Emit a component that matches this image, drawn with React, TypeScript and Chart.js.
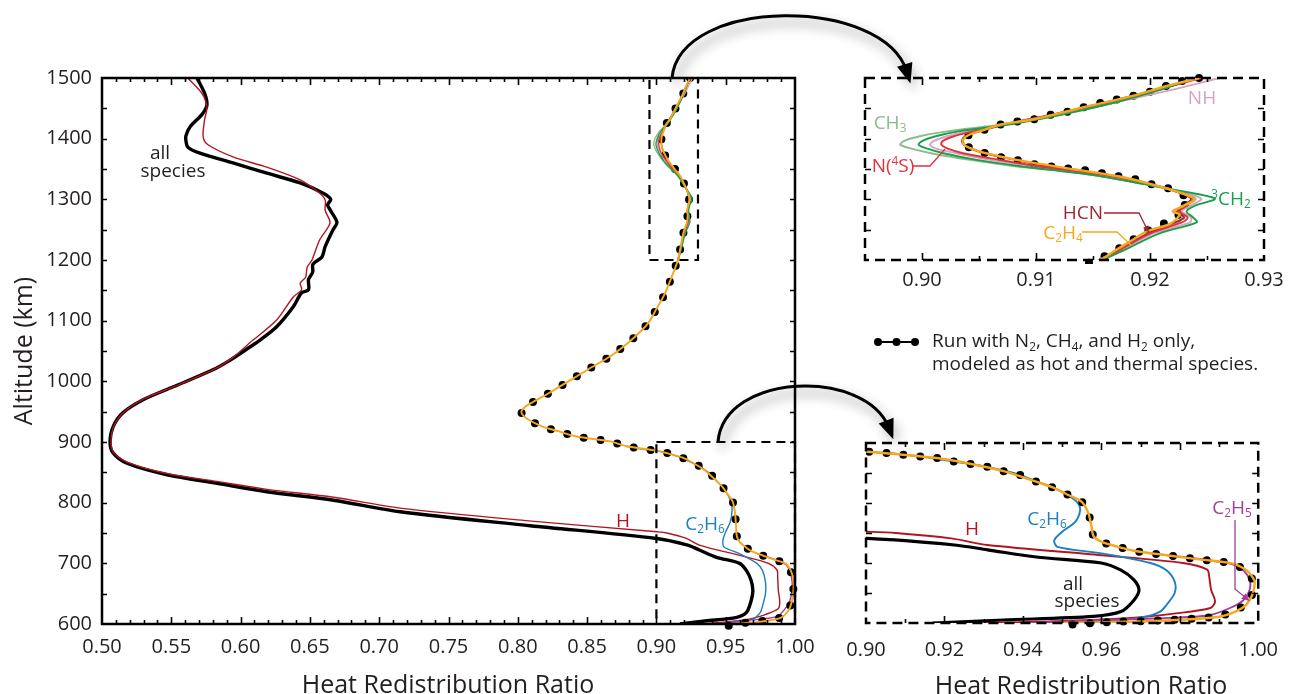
import React, { useEffect, useRef } from "react";
import { Chart, registerables } from "chart.js";
Chart.register(...registerables);

const FONT = "'Open Sans', 'DejaVu Sans', sans-serif";
const TXT = "#231f20";

// ---------- tick labels ----------
const mainXTicks = [0.5, 0.55, 0.6, 0.65, 0.7, 0.75, 0.8, 0.85, 0.9, 0.95, 1.0];
const mainYTicks = [600, 700, 800, 900, 1000, 1100, 1200, 1300, 1400, 1500];
const topXTicks = [0.9, 0.91, 0.92, 0.93];
const bottomXTicks = [0.9, 0.92, 0.94, 0.96, 0.98, 1.0];

// ---------- panel ranges ----------
const mainRange = { xMin: 0.5, xMax: 1.0, yMin: 600, yMax: 1500 };
const topRange = { xMin: 0.895, xMax: 0.93, yMin: 1200, yMax: 1500 };
const bottomRange = { xMin: 0.9, xMax: 1.0, yMin: 600, yMax: 900 };

// ---------- all species (black) ----------
const allAlt = [1500, 1475, 1455, 1440, 1420, 1405, 1396, 1386, 1376, 1360, 1343, 1327, 1310, 1300, 1291, 1283, 1262, 1250, 1222, 1205, 1193, 1180, 1168, 1151, 1146, 1123, 1090, 1068, 1057, 1035, 1019, 991, 970, 948, 925, 900, 882, 865, 846, 832, 818, 804, 785, 762, 741, 730, 722, 710, 700, 688, 672, 655, 638, 619, 611, 605, 600];
const allVal = [0.5685, 0.574, 0.5757, 0.5722, 0.5637, 0.5606, 0.5606, 0.562, 0.5707, 0.5945, 0.619, 0.643, 0.6596, 0.665, 0.6628, 0.6645, 0.6695, 0.6667, 0.661, 0.6587, 0.6522, 0.652, 0.649, 0.649, 0.644, 0.638, 0.626, 0.614, 0.607, 0.5925, 0.58, 0.5515, 0.53, 0.515, 0.508, 0.5058, 0.508, 0.518, 0.547, 0.583, 0.619, 0.667, 0.715, 0.809, 0.9002, 0.9226, 0.931, 0.9434, 0.96, 0.965, 0.9683, 0.9696, 0.9683, 0.965, 0.958, 0.935, 0.917];

// ---------- H ----------
const hAlt = [1500, 1475, 1452, 1431, 1403, 1390, 1370, 1353, 1332, 1312, 1299, 1282, 1261, 1233, 1200, 1188, 1172, 1162, 1151, 1139, 1101, 1068, 1035, 1020, 992, 972, 950, 926, 900, 882, 866, 848, 835, 822, 809, 791, 770, 752, 750, 741, 730, 713, 700, 689, 677, 655, 636, 625, 616, 608, 602, 600];
const hVal = [0.562, 0.572, 0.5757, 0.574, 0.573, 0.5765, 0.5945, 0.619, 0.643, 0.656, 0.661, 0.661, 0.6645, 0.657, 0.6515, 0.648, 0.647, 0.643, 0.644, 0.638, 0.626, 0.609, 0.592, 0.581, 0.553, 0.531, 0.516, 0.5085, 0.5065, 0.5085, 0.519, 0.547, 0.583, 0.619, 0.667, 0.715, 0.8077, 0.9004, 0.9076, 0.9217, 0.931, 0.96, 0.9808, 0.987, 0.9875, 0.988, 0.989, 0.9878, 0.979, 0.9667, 0.9434, 0.93];

// ---------- C2H6 ----------
const c2h6Alt = [893, 888, 883, 877, 869, 860, 847, 836, 826, 812, 800, 788, 769, 752, 738, 727, 716, 700, 688, 669, 650, 630, 619, 611, 606, 602, 600];
const c2h6Val = [0.8785, 0.8906, 0.906, 0.9143, 0.9226, 0.9309, 0.9392, 0.9434, 0.9476, 0.9517, 0.954, 0.9546, 0.9534, 0.95, 0.948, 0.9488, 0.96, 0.9725, 0.9766, 0.9787, 0.9787, 0.9766, 0.975, 0.9716, 0.9667, 0.955, 0.945];

// ---------- C2H5 ----------
const c2h5Alt = [716, 710, 703, 698, 688, 672, 655, 638, 625, 613, 608, 605, 602, 600];
const c2h5Val = [0.9725, 0.9808, 0.9891, 0.9933, 0.9962, 0.9978, 0.9978, 0.9962, 0.9928, 0.9875, 0.975, 0.9584, 0.95, 0.94];

// ---------- run with N2, CH4, H2 only (dotted) ----------
const runAlt = [1500, 1494, 1486, 1477, 1470, 1464, 1458, 1451, 1444, 1439, 1432, 1428, 1423, 1414, 1406, 1398, 1390, 1384, 1377, 1370, 1365, 1358, 1354, 1351, 1348, 1343, 1338, 1333, 1325, 1318, 1307, 1298, 1290, 1282, 1275, 1268, 1260, 1247, 1230, 1214, 1200, 1172, 1145, 1120, 1096, 1076, 1057, 1041, 1020, 1000, 980, 966, 957, 950, 943, 935, 925, 917, 909, 905, 901, 893, 889, 885.5, 883, 880, 877, 874.5, 869, 865, 860.5, 853, 846.7, 835.5, 826, 813, 802, 783, 760.5, 745, 735.5, 727, 720.5, 716, 713, 709.5, 706, 703, 699.5, 688, 676, 666, 650, 633, 619, 610.5, 608, 606, 605, 603, 602, 600, 597];
const runVal = [0.9243, 0.9226, 0.9213, 0.9199, 0.9184, 0.9169, 0.9155, 0.914, 0.9127, 0.9112, 0.9098, 0.9083, 0.9068, 0.9054, 0.9041, 0.9036, 0.9038, 0.9043, 0.9054, 0.9068, 0.9083, 0.9098, 0.9114, 0.9128, 0.9143, 0.9158, 0.9172, 0.9187, 0.9201, 0.9216, 0.9229, 0.9236, 0.923, 0.9222, 0.9225, 0.922, 0.9212, 0.9197, 0.9182, 0.9168, 0.9153, 0.911, 0.9062, 0.9002, 0.8941, 0.8857, 0.8761, 0.8665, 0.851, 0.8365, 0.8220, 0.8110, 0.8048, 0.8025, 0.8042, 0.8090, 0.8184, 0.8304, 0.8425, 0.8545, 0.8665, 0.8785, 0.889, 0.9005, 0.906, 0.9101, 0.9143, 0.9185, 0.9226, 0.9268, 0.9309, 0.9351, 0.9392, 0.9434, 0.9476, 0.9517, 0.955, 0.9567, 0.9575, 0.958, 0.96, 0.9642, 0.9683, 0.9725, 0.9766, 0.9808, 0.985, 0.9891, 0.9933, 0.9966, 0.9982, 0.9988, 0.9986, 0.997, 0.9937, 0.9891, 0.985, 0.9808, 0.9766, 0.97, 0.964, 0.958, 0.952];

// ---------- C2H4 (orange) ----------
const c2h4Alt = [1500, 1486, 1470, 1451, 1432, 1423, 1414, 1406, 1398, 1390, 1384, 1377, 1365, 1351, 1338, 1325, 1310, 1300, 1290, 1280, 1275, 1260, 1247, 1230, 1214, 1200, 1172, 1145, 1120, 1096, 1076, 1057, 1041, 1020, 1000, 980, 966, 957, 950, 943, 935, 925, 917, 909, 901, 893, 885.5, 880, 874.5, 865, 853, 835.5, 826, 813, 802, 783, 760.5, 745, 735.5, 727, 720.5, 713, 706, 699.5, 688, 676, 666, 644, 624.5, 610.5, 605, 602, 600];
const c2h4Val = [0.9243, 0.9213, 0.9184, 0.914, 0.9098, 0.9068, 0.9054, 0.9041, 0.9036, 0.9037, 0.9043, 0.9054, 0.9083, 0.9128, 0.9172, 0.9201, 0.9228, 0.9239, 0.923, 0.922, 0.9226, 0.9218, 0.9197, 0.9182, 0.9168, 0.9156, 0.911, 0.9062, 0.9002, 0.8941, 0.8857, 0.8761, 0.8665, 0.851, 0.8365, 0.8220, 0.8110, 0.8048, 0.8025, 0.8042, 0.8090, 0.8184, 0.8304, 0.8425, 0.8665, 0.8785, 0.9005, 0.9101, 0.9185, 0.9268, 0.9351, 0.9434, 0.9476, 0.9517, 0.955, 0.9567, 0.9575, 0.958, 0.96, 0.9642, 0.9683, 0.9766, 0.985, 0.9933, 0.997, 0.9986, 0.9991, 0.9983, 0.9958, 0.99, 0.979, 0.9666, 0.95];

// ---------- minor species, 1200-1500 km ----------
const minorAlt = [1500, 1480, 1460, 1440, 1425, 1412, 1404, 1396, 1390, 1384, 1376, 1365, 1355, 1340, 1325, 1312, 1301, 1290, 1280, 1270, 1262, 1245, 1230, 1215, 1200];
const ch3Val = [0.924, 0.9208, 0.917, 0.9122, 0.9078, 0.9022, 0.8998, 0.8984, 0.8981, 0.899, 0.9008, 0.9042, 0.908, 0.915, 0.9195, 0.9225, 0.924, 0.9232, 0.9225, 0.9228, 0.9225, 0.92, 0.9185, 0.9172, 0.9155];
const ch2Val = [0.924, 0.9208, 0.917, 0.9124, 0.9082, 0.9032, 0.9012, 0.9, 0.8997, 0.9004, 0.9019, 0.9048, 0.9085, 0.915, 0.9195, 0.9232, 0.9257, 0.924, 0.9232, 0.9238, 0.9241, 0.921, 0.9192, 0.9176, 0.9158];
const nhVal = [0.9261, 0.9218, 0.917, 0.912, 0.9078, 0.904, 0.9022, 0.901, 0.9007, 0.9012, 0.903, 0.906, 0.9098, 0.9158, 0.92, 0.9228, 0.9245, 0.9236, 0.9228, 0.9236, 0.9235, 0.9205, 0.9188, 0.9173, 0.9155];
const n4sVal = [0.9245, 0.9205, 0.9163, 0.9116, 0.9076, 0.9045, 0.9028, 0.9018, 0.9017, 0.9022, 0.9036, 0.9068, 0.91, 0.916, 0.92, 0.9225, 0.9238, 0.9232, 0.9226, 0.9233, 0.9228, 0.9202, 0.9186, 0.9172, 0.9155];
const hcnVal = [0.9243, 0.9204, 0.9162, 0.9115, 0.9076, 0.905, 0.9038, 0.9035, 0.9037, 0.9042, 0.9055, 0.9082, 0.9109, 0.9165, 0.9201, 0.9224, 0.9236, 0.923, 0.9224, 0.923, 0.9222, 0.92, 0.9185, 0.9171, 0.9155];

const COL = {
  black: "#000000",
  H: "#b3151f",
  C2H6: "#1a7fc3",
  C2H5: "#a13f9a",
  CH3: "#8dbb8b",
  CH2: "#17a14a",
  N4S: "#e2313f",
  NH: "#d7a3be",
  HCN: "#9c2631",
  C2H4: "#f6a71b",
};

const toPts = (alts: number[], vals: number[]) => alts.map((a, i) => ({ x: vals[i], y: a }));

function buildDatasets(kind: "main" | "top" | "bottom") {
  const inset = kind !== "main";
  const thin = inset ? 1.9 : 1.4;
  const runClip =
    kind === "top" ? { left: 0, top: 5, right: 0, bottom: 4 } : { left: 0, top: 0, right: 5, bottom: 6 };
  const list: any[] = [
    { label: "all species", data: toPts(allAlt, allVal), borderColor: COL.black, borderWidth: inset ? 3.2 : 3.4 },
    { label: "H", data: toPts(hAlt, hVal), borderColor: COL.H, borderWidth: thin },
    { label: "C2H6", data: toPts(c2h6Alt, c2h6Val), borderColor: COL.C2H6, borderWidth: thin },
    { label: "C2H5", data: toPts(c2h5Alt, c2h5Val), borderColor: COL.C2H5, borderWidth: thin },
    {
      label: "Run N2 CH4 H2",
      data: toPts(runAlt, runVal),
      borderColor: "#000",
      borderWidth: 8,
      borderDash: [0, 17],
      borderCapStyle: "round",
      clip: runClip,
    },
    { label: "CH3", data: toPts(minorAlt, ch3Val), borderColor: COL.CH3, borderWidth: thin },
    { label: "NH", data: toPts(minorAlt, nhVal), borderColor: COL.NH, borderWidth: thin },
    { label: "HCN", data: toPts(minorAlt, hcnVal), borderColor: COL.HCN, borderWidth: thin },
    { label: "N(4S)", data: toPts(minorAlt, n4sVal), borderColor: COL.N4S, borderWidth: thin },
    { label: "3CH2", data: toPts(minorAlt, ch2Val), borderColor: COL.CH2, borderWidth: thin },
    { label: "C2H4", data: toPts(c2h4Alt, c2h4Val), borderColor: COL.C2H4, borderWidth: thin + 0.5 },
  ];
  return list.map((d, i) => ({
    showLine: true,
    pointRadius: 0,
    pointHoverRadius: 0,
    tension: 0.3,
    fill: false,
    clip: 0,
    order: list.length - i,
    ...d,
  }));
}

type FrameOpts = {
  id: string;
  dashed: boolean;
  xMinor: number;
  xMajor: number;
  yMinor: number;
  yMajor: number;
  xLen: [number, number];
  yLen: [number, number];
  boxes?: { xMin: number; xMax: number; yMin: number; yMax: number }[];
};

function framePlugin(o: FrameOpts) {
  return {
    id: "frame_" + o.id,
    afterDatasetsDraw(chart: any) {
      const { ctx, chartArea: a } = chart;
      const xs = chart.scales.x;
      const ys = chart.scales.y;
      ctx.save();
      ctx.strokeStyle = "#000";
      ctx.setLineDash([]);
      ctx.lineWidth = 1.6;
      ctx.beginPath();
      const xs0 = Math.ceil(xs.min / o.xMinor - 1e-6);
      const xs1 = Math.floor(xs.max / o.xMinor + 1e-6);
      for (let k = xs0; k <= xs1; k++) {
        const v = k * o.xMinor;
        if (Math.abs(v - xs.min) < 1e-6 || Math.abs(v - xs.max) < 1e-6) continue;
        const major = Math.abs(v / o.xMajor - Math.round(v / o.xMajor)) < 1e-4;
        const len = major ? o.xLen[1] : o.xLen[0];
        const px = Math.round(xs.getPixelForValue(v)) + 0.5;
        ctx.moveTo(px, a.bottom);
        ctx.lineTo(px, a.bottom - len);
        ctx.moveTo(px, a.top);
        ctx.lineTo(px, a.top + len);
      }
      const ys0 = Math.ceil(ys.min / o.yMinor - 1e-6);
      const ys1 = Math.floor(ys.max / o.yMinor + 1e-6);
      for (let k = ys0; k <= ys1; k++) {
        const v = k * o.yMinor;
        if (Math.abs(v - ys.min) < 1e-6 || Math.abs(v - ys.max) < 1e-6) continue;
        const major = Math.abs(v / o.yMajor - Math.round(v / o.yMajor)) < 1e-4;
        const len = major ? o.yLen[1] : o.yLen[0];
        const py = Math.round(ys.getPixelForValue(v)) + 0.5;
        ctx.moveTo(a.left, py);
        ctx.lineTo(a.left + len, py);
        ctx.moveTo(a.right, py);
        ctx.lineTo(a.right - len, py);
      }
      ctx.stroke();
      ctx.lineWidth = 2.5;
      if (o.dashed) ctx.setLineDash([10, 6]);
      ctx.strokeRect(a.left, a.top, a.right - a.left, a.bottom - a.top);
      for (const b of o.boxes || []) {
        ctx.setLineDash([9, 6]);
        ctx.lineWidth = 2.2;
        const x0 = xs.getPixelForValue(b.xMin);
        const x1 = xs.getPixelForValue(b.xMax);
        const y0 = ys.getPixelForValue(b.yMax);
        const y1 = ys.getPixelForValue(b.yMin);
        ctx.strokeRect(x0, y0, x1 - x0, y1 - y0);
      }
      ctx.restore();
    },
  };
}

const tickFont = { family: FONT, size: 20 };

function xScale(range: any, ticks: number[], height: number, padding: number) {
  return {
    type: "linear",
    min: range.xMin,
    max: range.xMax,
    grid: { display: false, drawTicks: false },
    border: { display: false },
    afterBuildTicks: (s: any) => {
      s.ticks = ticks.map((v) => ({ value: v }));
    },
    afterFit: (s: any) => {
      s.height = height;
    },
    ticks: {
      font: tickFont,
      color: TXT,
      padding,
      maxRotation: 0,
      autoSkip: false,
      callback: (v: any) => Number(v).toFixed(2),
    },
  };
}

function baseOptions(padding: any) {
  return {
    responsive: false,
    animation: false,
    devicePixelRatio: 1,
    events: [],
    layout: { padding },
    plugins: { legend: { display: false }, tooltip: { enabled: false } },
  };
}

function mainConfig(): any {
  return {
    type: "scatter",
    data: { datasets: buildDatasets("main") },
    options: {
      ...baseOptions({ left: 0, top: 78, right: 35, bottom: 0 }),
      scales: {
        x: xScale(mainRange, mainXTicks, 70, 11),
        y: {
          type: "linear",
          min: mainRange.yMin,
          max: mainRange.yMax,
          grid: { display: false, drawTicks: false },
          border: { display: false },
          afterBuildTicks: (s: any) => {
            s.ticks = mainYTicks.map((v) => ({ value: v }));
          },
          afterFit: (s: any) => {
            s.width = 102;
          },
          ticks: { font: tickFont, color: TXT, padding: 10, callback: (v: any) => String(v) },
          title: {
            display: true,
            text: "Altitude (km)",
            font: { family: FONT, size: 25 },
            color: TXT,
            padding: { top: 10, bottom: 0 },
          },
        },
      },
    },
    plugins: [
      framePlugin({
        id: "main",
        dashed: false,
        xMinor: 0.01,
        xMajor: 0.05,
        yMinor: 50,
        yMajor: 100,
        xLen: [4, 7],
        yLen: [5, 5],
        boxes: [topRange, bottomRange],
      }),
    ],
  };
}

function insetConfig(kind: "top" | "bottom"): any {
  const top = kind === "top";
  const range = top ? topRange : bottomRange;
  return {
    type: "scatter",
    data: { datasets: buildDatasets(kind) },
    options: {
      ...baseOptions(top ? { left: 35, top: 78, right: 29, bottom: 0 } : { left: 36, top: 143, right: 26, bottom: 0 }),
      scales: {
        x: xScale(range, top ? topXTicks : bottomXTicks, top ? 40 : 71, top ? 8 : 15),
        y: { type: "linear", min: range.yMin, max: range.yMax, display: false },
      },
    },
    plugins: [
      framePlugin({
        id: kind,
        dashed: true,
        xMinor: top ? 0.005 : 0.01,
        xMajor: top ? 0.01 : 0.02,
        yMinor: 50,
        yMajor: 100,
        xLen: [4, 7],
        yLen: [6, 6],
      }),
    ],
  };
}

const subS: React.CSSProperties = { fontSize: "0.62em", verticalAlign: "-0.3em", lineHeight: 0 };
const supS: React.CSSProperties = { fontSize: "0.62em", verticalAlign: "0.55em", lineHeight: 0 };

function Lbl(props: { x: number; y: number; color: string; children: any; size?: number }) {
  return (
    <div
      style={{
        position: "absolute",
        left: props.x,
        top: props.y,
        transform: "translate(-50%, -50%)",
        color: props.color,
        fontSize: props.size || 19,
        lineHeight: 1,
        whiteSpace: "nowrap",
        fontFamily: FONT,
      }}
    >
      {props.children}
    </div>
  );
}

function arrowHead(px: number, py: number, ex: number, ey: number, len: number, half: number) {
  const dx = ex - px;
  const dy = ey - py;
  const d = Math.hypot(dx, dy) || 1;
  const ux = dx / d;
  const uy = dy / d;
  const tipX = ex + ux * len * 0.6;
  const tipY = ey + uy * len * 0.6;
  const bx = ex - ux * len * 0.4;
  const by = ey - uy * len * 0.4;
  return `${tipX},${tipY} ${bx - uy * half},${by + ux * half} ${bx + uy * half},${by - ux * half}`;
}

export default function App() {
  const mainRef = useRef<HTMLCanvasElement>(null);
  const topRef = useRef<HTMLCanvasElement>(null);
  const botRef = useRef<HTMLCanvasElement>(null);

  useEffect(() => {
    Chart.defaults.font.family = FONT;
    const charts: Chart[] = [];
    if (mainRef.current) charts.push(new Chart(mainRef.current, mainConfig()));
    if (topRef.current) charts.push(new Chart(topRef.current, insetConfig("top")));
    if (botRef.current) charts.push(new Chart(botRef.current, insetConfig("bottom")));
    return () => charts.forEach((c) => c.destroy());
  }, []);

  const a1 = "M 672 78 C 680 -4, 884 -4, 907 72";
  const a2 = "M 718 442 C 724 372, 866 368, 889 428";

  return (
    <div
      style={{
        position: "absolute",
        left: 0,
        top: 0,
        width: 1293,
        height: 694,
        background: "#fff",
        overflow: "hidden",
        fontFamily: FONT,
      }}
    >
      <canvas ref={mainRef} width={830} height={694} style={{ position: "absolute", left: 0, top: 0 }} />
      <canvas ref={topRef} width={463} height={300} style={{ position: "absolute", left: 830, top: 0 }} />
      <canvas ref={botRef} width={463} height={394} style={{ position: "absolute", left: 830, top: 300 }} />

      <svg width={1293} height={694} style={{ position: "absolute", left: 0, top: 0, pointerEvents: "none" }}>
        <defs>
          <filter id="blur" x="-30%" y="-30%" width="160%" height="160%">
            <feGaussianBlur stdDeviation="6" />
          </filter>
        </defs>
        <g filter="url(#blur)" opacity={0.22} transform="translate(4,7)">
          <path d={a1} stroke="#000" strokeWidth={7} fill="none" />
          <path d={a2} stroke="#000" strokeWidth={7} fill="none" />
          <polygon points={arrowHead(884, -4, 907, 72, 20, 9)} fill="#000" />
          <polygon points={arrowHead(866, 368, 889, 428, 20, 9)} fill="#000" />
        </g>
        <path d={a1} stroke="#000" strokeWidth={3} fill="none" />
        <polygon points={arrowHead(884, -4, 907, 72, 20, 8)} fill="#000" />
        <path d={a2} stroke="#000" strokeWidth={3} fill="none" />
        <polygon points={arrowHead(866, 368, 889, 428, 20, 8)} fill="#000" />

        <polyline points="913,166 930,166 945,149" stroke={COL.N4S} strokeWidth={1.3} fill="none" />
        <polyline points="1104,213 1139,213 1147,229" stroke={COL.HCN} strokeWidth={1.3} fill="none" />
        <polygon points={arrowHead(1139, 213, 1147, 229, 7, 3)} fill={COL.HCN} />
        <polyline points="1082,232 1117,232 1131,245" stroke={COL.C2H4} strokeWidth={1.3} fill="none" />
        <polyline points="1235,520 1235,589 1246,598" stroke={COL.C2H5} strokeWidth={1.3} fill="none" />
        <polygon points={arrowHead(1235, 589, 1246, 598, 8, 3.5)} fill={COL.C2H5} />

        <line x1={878} y1={342} x2={915} y2={342} stroke="#000" strokeWidth={2} />
        <circle cx={878} cy={342} r={4} fill="#000" />
        <circle cx={896.5} cy={342} r={4} fill="#000" />
        <circle cx={915} cy={342} r={4} fill="#000" />
      </svg>

      <Lbl x={160} y={152} color={TXT}>all</Lbl>
      <Lbl x={173} y={170} color={TXT}>species</Lbl>
      <Lbl x={623} y={520} color={COL.H}>H</Lbl>
      <Lbl x={705} y={523} color={COL.C2H6}>
        C<sub style={subS}>2</sub>H<sub style={subS}>6</sub>
      </Lbl>
      <Lbl x={448} y={683} color={TXT} size={25}>
        Heat Redistribution Ratio
      </Lbl>

      <Lbl x={1202} y={97} color={COL.NH}>NH</Lbl>
      <Lbl x={890} y={122} color={COL.CH3}>
        CH<sub style={subS}>3</sub>
      </Lbl>
      <Lbl x={893} y={165} color={COL.N4S}>
        N(<sup style={supS}>4</sup>S)
      </Lbl>
      <Lbl x={1231} y={198} color={COL.CH2}>
        <sup style={supS}>3</sup>CH<sub style={subS}>2</sub>
      </Lbl>
      <Lbl x={1083} y={212} color={COL.HCN}>HCN</Lbl>
      <Lbl x={1063} y={232} color={COL.C2H4}>
        C<sub style={subS}>2</sub>H<sub style={subS}>4</sub>
      </Lbl>

      <div
        style={{
          position: "absolute",
          left: 932,
          top: 329,
          fontSize: 19,
          lineHeight: "23px",
          color: TXT,
          whiteSpace: "nowrap",
          fontFamily: FONT,
        }}
      >
        <div>
          Run with N<sub style={subS}>2</sub>, CH<sub style={subS}>4</sub>, and H<sub style={subS}>2</sub> only,
        </div>
        <div>modeled as hot and thermal species.</div>
      </div>

      <Lbl x={972} y={528} color={COL.H}>H</Lbl>
      <Lbl x={1047} y={518} color={COL.C2H6}>
        C<sub style={subS}>2</sub>H<sub style={subS}>6</sub>
      </Lbl>
      <Lbl x={1232} y={507} color={COL.C2H5}>
        C<sub style={subS}>2</sub>H<sub style={subS}>5</sub>
      </Lbl>
      <Lbl x={1073} y={583} color={TXT}>all</Lbl>
      <Lbl x={1087} y={600} color={TXT}>species</Lbl>
      <Lbl x={1081} y={684} color={TXT} size={25}>
        Heat Redistribution Ratio
      </Lbl>
    </div>
  );
}
